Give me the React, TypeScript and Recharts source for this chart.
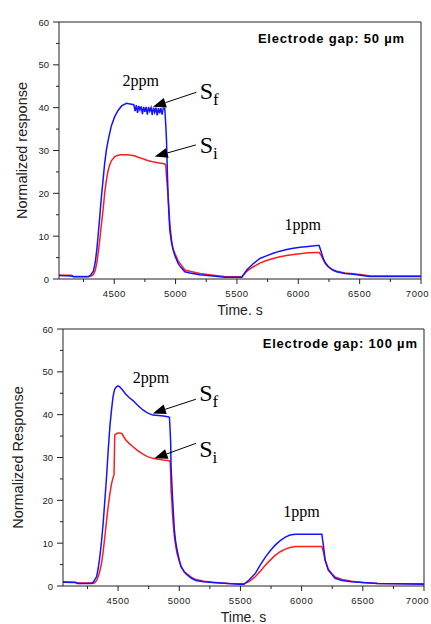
import React from 'react';
import { LineChart, Line, XAxis, YAxis, ReferenceLine, ReferenceDot } from 'recharts';

const SANS = '"Liberation Sans", Arial, sans-serif';
const SERIF = '"Liberation Serif", "Times New Roman", serif';
const BLUE = '#1414ff';
const RED = '#ff1c1c';
const INK = '#222';

// axes
const timeTicks = [4250, 4500, 4750, 5000, 5250, 5500, 5750, 6000, 6250, 6500, 6750, 7000];
const responseTicks = [0, 5, 10, 15, 20, 25, 30, 35, 40, 45, 50, 55, 60];

// electrode gap 50 µm
const gap50Time = [
  4050, 4150, 4170, 4290, 4310, 4330, 4345, 4358, 4370, 4382, 4395, 4409, 4422, 4436, 4450, 4463,
  4477, 4504, 4530, 4560, 4600, 4640, 4660, 4670, 4680, 4690, 4700, 4710, 4720, 4730, 4740, 4750,
  4760, 4770, 4780, 4790, 4800, 4810, 4820, 4830, 4840, 4850, 4860, 4870, 4880, 4890, 4900, 4912,
  4920, 4926, 4933, 4940, 4947, 4953, 4967, 4980, 4994, 5020, 5035, 5075, 5116, 5197, 5305, 5400,
  5500, 5540, 5580, 5630, 5687, 5740, 5796, 5850, 5905, 5960, 6014, 6080, 6150, 6170, 6185, 6203,
  6220, 6244, 6280, 6312, 6380, 6448, 6520, 6584, 6700, 7000,
];
const gap50Sf = [
  0.8, 0.7, 0.5, 0.5, 1.0, 1.8, 3.8, 6.8, 10.5, 14.5, 19.0, 23.1, 27.0, 30.1, 32.3, 34.0,
  35.8, 37.9, 39.3, 40.4, 41.0, 40.8, 40.7, 39.2, 40.6, 38.8, 40.4, 39.5, 40.3, 38.5, 40.2, 39.0,
  40.2, 38.4, 40.1, 39.2, 40.0, 38.3, 40.0, 38.9, 40.0, 38.2, 39.9, 38.7, 39.9, 38.4, 39.9, 39.8,
  36.0, 32.5, 25.0, 18.4, 14.5, 11.4, 8.5, 6.8, 5.5, 3.7, 3.0, 1.7, 1.4, 1.0, 0.7, 0.4,
  0.4, 0.4, 2.1, 3.5, 4.8, 5.4, 6.0, 6.5, 6.9, 7.2, 7.4, 7.6, 7.8, 7.8, 6.5, 4.8,
  3.8, 2.9, 2.1, 1.7, 1.3, 1.1, 0.8, 0.6, 0.6, 0.6,
];
const gap50Si = [
  0.9, 0.9, 0.6, 0.6, 0.7, 1.0, 2.0, 3.7, 6.2, 9.1, 12.6, 16.1, 20.0, 23.1, 25.3, 26.6,
  27.6, 28.6, 28.9, 29.0, 29.0, 28.9, 28.8, 28.7, 28.6, 28.5, 28.4, 28.3, 28.2, 28.1, 28.0, 27.9,
  27.8, 27.7, 27.6, 27.5, 27.5, 27.4, 27.3, 27.3, 27.2, 27.2, 27.1, 27.1, 27.0, 27.0, 26.9, 26.9,
  26.5, 23.9, 21.5, 19.2, 16.0, 13.0, 9.1, 7.0, 6.0, 4.3, 3.7, 2.1, 1.8, 1.3, 0.9, 0.6,
  0.5, 0.5, 1.8, 2.8, 3.7, 4.3, 4.8, 5.2, 5.5, 5.7, 5.9, 6.1, 6.2, 6.2, 5.6, 4.5,
  3.6, 2.8, 2.2, 1.8, 1.4, 1.2, 1.0, 0.7, 0.7, 0.7,
];

// electrode gap 100 µm
const gap100Time = [
  4050, 4150, 4170, 4283, 4297, 4310, 4325, 4338, 4351, 4365, 4378, 4392, 4406, 4419, 4433, 4446,
  4459, 4467, 4473, 4490, 4500, 4510, 4530, 4560, 4590, 4622, 4660, 4703, 4740, 4784, 4830, 4870,
  4906, 4920, 4926, 4930, 4933, 4940, 4946, 4953, 4960, 4970, 4982, 5000, 5015, 5041, 5055, 5100,
  5136, 5200, 5271, 5400, 5488, 5528, 5570, 5623, 5660, 5705, 5745, 5786, 5825, 5867, 5905, 5948,
  6000, 6100, 6165, 6178, 6192, 6218, 6250, 6273, 6330, 6408, 6500, 6624, 6800, 7000,
];
const gap100Sf = [
  0.9, 0.8, 0.6, 0.6, 0.9, 1.5, 2.2, 4.2, 6.8, 10.5, 14.6, 20.0, 25.5, 31.5, 37.2, 41.0,
  44.2, 45.3, 46.0, 46.6, 46.7, 46.6, 46.0, 44.9, 44.0, 43.3, 42.2, 41.1, 40.4, 39.9, 39.8, 39.7,
  39.5, 39.4, 36.0, 33.3, 28.0, 23.5, 20.1, 16.5, 13.1, 10.5, 8.4, 6.1, 4.5, 3.3, 2.8, 1.8,
  1.3, 1.0, 0.8, 0.6, 0.4, 0.4, 1.4, 3.0, 4.8, 6.8, 8.3, 9.6, 10.6, 11.4, 11.9, 12.1,
  12.1, 12.1, 12.1, 9.5, 6.1, 3.7, 2.6, 1.8, 1.3, 1.0, 0.8, 0.6, 0.5, 0.4,
];
const gap100Si = [
  1.0, 0.9, 0.7, 0.7, 0.6, 0.8, 1.3, 2.2, 3.5, 5.3, 8.0, 11.5, 15.3, 18.5, 21.5, 23.8,
  25.3, 26.0, 35.3, 35.6, 35.7, 35.7, 35.6, 34.2, 33.3, 32.5, 31.6, 30.8, 30.2, 29.8, 29.6, 29.4,
  29.3, 29.2, 29.0, 26.0, 22.4, 19.5, 16.2, 13.8, 11.5, 9.5, 7.6, 5.8, 4.5, 3.3, 3.0, 2.0,
  1.5, 1.1, 0.9, 0.6, 0.5, 0.5, 1.0, 2.2, 3.4, 4.9, 6.1, 7.2, 8.0, 8.6, 9.0, 9.2,
  9.2, 9.2, 9.2, 8.0, 6.0, 3.9, 2.8, 2.1, 1.5, 1.1, 0.8, 0.6, 0.5, 0.5,
];

const zip = (time: number[], sf: number[], si: number[]) =>
  time.map((t, i) => ({ t, sf: sf[i], si: si[i] }));

const TICK = 5;
const GAP = 4;

const TimeTick = ({ x, y, payload }: any) => {
  const major = payload.value % 500 === 0;
  const last = payload.value === 7000;
  const y0 = y - TICK - GAP;
  return (
    <g>
      <line x1={x} x2={x} y1={y0} y2={y0 + (major ? 5 : 3)} stroke={INK} />
      {major && (
        <text x={last ? Math.min(x + 9, 429) : x} y={y0 + 14} textAnchor={last ? 'end' : 'middle'}
          dominantBaseline="central" fontSize={9.5} letterSpacing={0.5} fill={INK} fontFamily={SANS}>
          {payload.value}
        </text>
      )}
    </g>
  );
};

const ResponseTick = ({ x, y, payload }: any) => {
  const major = payload.value % 10 === 0;
  const x0 = x + TICK + GAP;
  return (
    <g>
      <line x1={x0 - (major ? 6 : 3)} x2={x0} y1={y} y2={y} stroke={INK} />
      {major && (
        <text x={x0 - 10} y={y} textAnchor="end" dominantBaseline="central"
          fontSize={9.5} fill={INK} fontFamily={SANS}>
          {payload.value}
        </text>
      )}
    </g>
  );
};

const Arrow = ({ x1, y1, x2, y2 }: any) => {
  const [sx, sy, tx, ty] = x1 < x2 ? [x2, y2, x1, y1] : [x1, y1, x2, y2];
  const len = Math.hypot(sx - tx, sy - ty);
  const ux = (sx - tx) / len;
  const uy = (sy - ty) / len;
  const bx = tx + ux * 13;
  const by = ty + uy * 13;
  return (
    <g>
      <line x1={sx} y1={sy} x2={bx} y2={by} stroke="#000" strokeWidth={1} />
      <polygon points={`${tx},${ty} ${bx - uy * 5},${by + ux * 5} ${bx + uy * 5},${by - ux * 5}`} fill="#000" />
    </g>
  );
};

const serifText = (label: string) => (p: any) => (
  <text x={p.cx} y={p.cy} textAnchor="middle" fontSize={16} fontFamily={SERIF} fill="#000">{label}</text>
);

const signalText = (sub: string) => (p: any) => (
  <text x={p.cx} y={p.cy} fontSize={24} fontFamily={SERIF} fill="#000">
    S<tspan fontSize={17} dy={6}>{sub}</tspan>
  </text>
);

const gapText = (label: string) => (p: any) => (
  <text x={p.cx} y={p.cy} textAnchor="end" fontSize={13} fontWeight="bold" letterSpacing={0.8}
    fontFamily={SANS} fill="#000">{label}</text>
);

interface PanelProps {
  data: { t: number; sf: number; si: number }[];
  top: number;
  height: number;
  yWidth: number;
  xHeight: number;
  right: number;
  yLabel: string;
  yLabelOffset: number;
  gapLabel: string;
  gapAt: [number, number];
  ppm2At: [number, number];
  ppm1At: [number, number];
  sfAt: [number, number];
  siAt: [number, number];
  sfArrow: [number, number, number, number];
  siArrow: [number, number, number, number];
}

const Panel = (p: PanelProps) => (
  <div style={{ position: 'absolute', left: 0, top: p.top }}>
    <LineChart width={431} height={p.height} data={p.data}
      margin={{ top: 22, right: p.right, bottom: 0, left: 0 }}>
      <XAxis dataKey="t" type="number" domain={[4050, 7000]} ticks={timeTicks} interval={0}
        allowDataOverflow height={p.xHeight} tickSize={TICK} tickMargin={GAP} tickLine={false}
        tick={<TimeTick />} axisLine={{ stroke: INK }}
        label={{ value: 'Time. s', position: 'insideBottom', offset: p.xHeight - 36, fontSize: 14, fill: INK, fontFamily: SANS }} />
      <YAxis type="number" domain={[0, 60]} ticks={responseTicks} interval={0} width={p.yWidth}
        tickSize={TICK} tickMargin={GAP} tickLine={false} tick={<ResponseTick />} axisLine={{ stroke: INK }}
        label={{ value: p.yLabel, angle: -90, position: 'insideLeft', offset: p.yLabelOffset,
          fontSize: 14.5, fill: INK, fontFamily: SANS, style: { textAnchor: 'middle' } }} />
      <ReferenceLine y={60} stroke={INK} />
      <ReferenceLine x={7000} stroke={INK} />
      <Line dataKey="si" stroke={RED} strokeWidth={1.5} dot={false} isAnimationActive={false} />
      <Line dataKey="sf" stroke={BLUE} strokeWidth={1.5} dot={false} isAnimationActive={false} />
      <ReferenceLine segment={[{ x: p.sfArrow[0], y: p.sfArrow[1] }, { x: p.sfArrow[2], y: p.sfArrow[3] }]}
        shape={Arrow} />
      <ReferenceLine segment={[{ x: p.siArrow[0], y: p.siArrow[1] }, { x: p.siArrow[2], y: p.siArrow[3] }]}
        shape={Arrow} />
      <ReferenceDot x={p.gapAt[0]} y={p.gapAt[1]} r={0} shape={gapText(p.gapLabel)} />
      <ReferenceDot x={p.ppm2At[0]} y={p.ppm2At[1]} r={0} shape={serifText('2ppm')} />
      <ReferenceDot x={p.ppm1At[0]} y={p.ppm1At[1]} r={0} shape={serifText('1ppm')} />
      <ReferenceDot x={p.sfAt[0]} y={p.sfAt[1]} r={0} shape={signalText('f')} />
      <ReferenceDot x={p.siAt[0]} y={p.siAt[1]} r={0} shape={signalText('i')} />
    </LineChart>
  </div>
);

export default function App() {
  return (
    <div style={{ position: 'absolute', left: 0, top: 0, width: 431, height: 624, background: '#fff' }}>
      <Panel data={zip(gap100Time, gap100Sf, gap100Si)} top={307} height={317} yWidth={63} xHeight={38} right={7}
        yLabel="Normalized Response" yLabelOffset={18} gapLabel="Electrode gap: 100 µm"
        gapAt={[6949, 55.6]} ppm2At={[4769, 47.4]} ppm1At={[5999, 16.1]}
        sfAt={[5163, 43.2]} siAt={[5163, 30.1]}
        sfArrow={[5136, 43.6, 4784, 40.3]} siArrow={[5136, 33.3, 4798, 29.8]} />
      <Panel data={zip(gap50Time, gap50Sf, gap50Si)} top={0} height={319} yWidth={59} xHeight={40} right={10}
        yLabel="Normalized response" yLabelOffset={22} gapLabel="Electrode gap: 50 µm"
        gapAt={[6869, 55.1]} ppm2At={[4716, 45.1]} ppm1At={[6037, 11.4]}
        sfAt={[5197, 42.0]} siAt={[5197, 29.3]}
        sfArrow={[5170, 43.6, 4816, 40.2]} siArrow={[5165, 31.3, 4830, 28.6]} />
    </div>
  );
}
